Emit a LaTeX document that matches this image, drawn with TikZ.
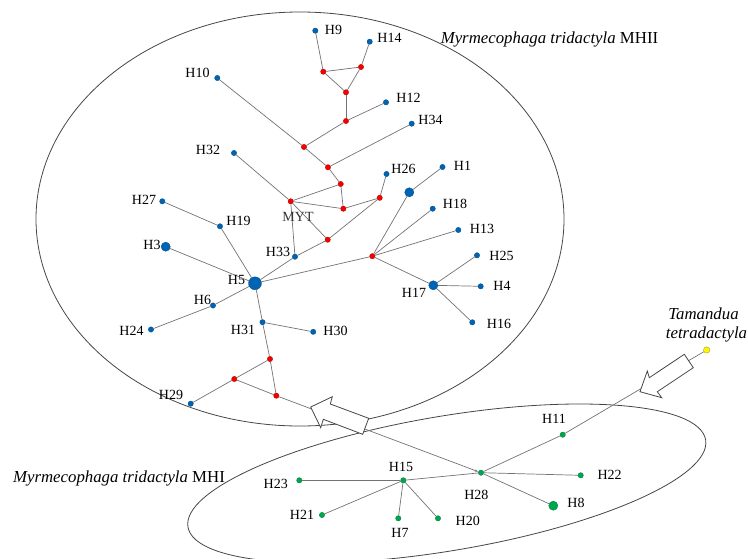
\documentclass[tikz,border=0pt]{standalone}
\usepackage{fontspec}
\setmainfont{Liberation Serif}
\usetikzlibrary{arrows.meta}
\definecolor{nblue}{RGB}{0,100,180}
\definecolor{nred}{RGB}{245,0,0}
\definecolor{ngreen}{RGB}{0,165,80}
\definecolor{nyellow}{RGB}{255,245,0}
\definecolor{egray}{RGB}{115,115,115}
\definecolor{ellgray}{RGB}{70,70,70}
\begin{document}
\begin{tikzpicture}[x=1pt,y=-1pt,
  hap/.style={circle,inner sep=0pt,minimum size=5.4pt,line width=0.3pt},
  hb/.style={hap,fill=nblue,draw=nblue!75!black},
  hbbig/.style={hb,minimum size=9.2pt},
  hr/.style={hap,fill=nred,draw=nred!75!black},
  hg/.style={hap,fill=ngreen,draw=ngreen!75!black},
  hgbig/.style={hg,minimum size=9.2pt},
  hy/.style={hap,fill=nyellow,draw=nyellow!60!black,minimum size=6.4pt},
  lab/.style={inner sep=0pt,font=\fontsize{14}{16}\selectfont},
  title/.style={inner sep=0pt,anchor=base,font=\fontsize{16.8}{19}\selectfont},
  edge/.style={draw=egray,line width=0.7pt},
  ell/.style={draw=ellgray,line width=0.8pt},
  blockarrow/.style={draw=ellgray,fill=white,line width=0.8pt,line join=miter}]
\useasboundingbox (0,0) rectangle (748,558);
\clip (0,0) rectangle (748,558);

% ellipses
\draw[ell] (300,219) ellipse [x radius=264pt, y radius=207pt];
\draw[ell, rotate around={9.56:(446.8,483.4)}] (446.8,483.4) ellipse [x radius=262.5pt, y radius=67.3pt];

% blue haplotypes (MHII)
\node[hb] (H9) at (315.3,30.7) {};
\node[hb] (H14) at (369.7,41.7) {};
\node[hb] (H10) at (217.3,78) {};
\node[hb] (H12) at (386,102.3) {};
\node[hb] (H34) at (411.7,123.7) {};
\node[hb] (H32) at (234,153) {};
\node[hb] (H26) at (386.5,174) {};
\node[hb] (H1) at (442.5,167) {};
\node[hbbig] (B1) at (409.3,192.3) {};
\node[hb] (H27) at (162.3,201.3) {};
\node[hb] (H19) at (220,226.3) {};
\node[hb] (H18) at (432.7,208.7) {};
\node[hb] (H13) at (458.3,230) {};
\node[hbbig] (H3) at (165.7,246.7) {};
\node[hb] (H33) at (295,256.7) {};
\node[hb] (H25) at (477,255.3) {};
\node[hb,minimum size=13pt] (H5) at (255,283.3) {};
\node[hbbig] (H17) at (433.3,285.3) {};
\node[hb] (H4) at (480.7,286.3) {};
\node[hb] (H6) at (213,305.5) {};
\node[hb] (H24) at (151,329.5) {};
\node[hb] (H31) at (262.5,322.2) {};
\node[hb] (H30) at (313.2,331.8) {};
\node[hb] (H16) at (472.3,322.3) {};
\node[hb] (H29) at (190.7,403.7) {};

% median vectors
\node[hr] (a1) at (323.3,71.7) {};
\node[hr] (a2) at (361,67) {};
\node[hr] (a3) at (346,92.3) {};
\node[hr] (a4) at (346,121) {};
\node[hr] (a5) at (304,147) {};
\node[hr] (a6) at (328,167.3) {};
\node[hr] (b1) at (340.7,184) {};
\node[hr] (b2) at (290.7,201.3) {};
\node[hr] (b3) at (343.3,208.7) {};
\node[hr] (b4) at (379.7,197.8) {};
\node[hr] (b5) at (327.7,239.7) {};
\node[hr] (c1) at (372.3,256.2) {};
\node[hr] (d1) at (270,359) {};
\node[hr] (d2) at (234.3,379) {};
\node[hr] (d3) at (276.3,395.7) {};

% green haplotypes (MHI) and outgroup
\node[hg] (H11) at (562.7,434.7) {};
\node[hg] (H28) at (481,472.7) {};
\node[hg] (H22) at (580.7,475.3) {};
\node[hgbig] (H8) at (553.3,505.7) {};
\node[hg] (H15) at (403.3,480.3) {};
\node[hg] (H23) at (299.3,480.3) {};
\node[hg] (H21) at (322,515) {};
\node[hg] (H7) at (398.3,518.3) {};
\node[hg] (H20) at (438,518.3) {};
\node[hy] (T) at (706.7,350) {};

% connectors
\foreach \u/\v in {H9/a1,H14/a2,a1/a2,a1/a3,a2/a3,a3/a4,a4/H12,a4/a5,H10/a5,a5/a6,a6/H34,a6/b1,
  b1/b3,b2/b1,b2/b3,b3/b4,b4/H26,b4/b5,b2/b5,H32/b2,b2/H33,H33/b5,H5/H33,H27/H19,H19/H5,H3/H5,
  H5/c1,c1/B1,B1/H1,c1/H18,c1/H13,c1/H17,H17/H25,H17/H4,H17/H16,H5/H6,H6/H24,H5/H31,H31/H30,
  H31/d1,d1/d2,d1/d3,d2/d3,d2/H29,H23/H15,H15/H28,H28/H22,H28/H11,H11/T,H28/H8,H15/H21,H15/H7,H15/H20}
  \draw[edge] (\u) -- (\v);
\draw[edge,-{Stealth[length=3pt,width=2.4pt]},shorten >=0.5pt] (d3) -- (H28);

% hollow block arrows
\draw[blockarrow] (310.7,407) -- (332.3,396.7) -- (330.3,404) -- (368.7,418.3) -- (362.7,434.3)
  -- (323.3,419.3) -- (320.7,427.7) -- cycle;
\draw[blockarrow] (640,391.7) -- (647.3,371) -- (649.3,377.7) -- (684.3,354.3) -- (693.3,367.7)
  -- (657.3,391.7) -- (661.7,397.7) -- cycle;

% labels
\node[lab] (lH9) at (333.5,30) {H9};
\node[lab] (lH14) at (389.5,38) {H14};
\node[lab] (lH10) at (197.5,73) {H10};
\node[lab] (lH12) at (408.5,98) {H12};
\node[lab] (lH34) at (430.5,120) {H34};
\node[lab] (lH32) at (208,150) {H32};
\node[lab] (lH26) at (403.5,169) {H26};
\node[lab] (lH1) at (462.5,166) {H1};
\node[lab] (lH27) at (144,200) {H27};
\node[lab] (lH19) at (238.5,221) {H19};
\node[lab,text=black!80] (lMYT) at (298,217) {MYT};
\node[lab] (lH3) at (152,245) {H3};
\node[lab] (lH33) at (278,251.7) {H33};
\node[lab] (lH5) at (236.5,280) {H5};
\node[lab] (lH18) at (455,204) {H18};
\node[lab] (lH13) at (482,229) {H13};
\node[lab] (lH25) at (501.5,256) {H25};
\node[lab] (lH17) at (414,293) {H17};
\node[lab] (lH4) at (502,286) {H4};
\node[lab] (lH16) at (499,324) {H16};
\node[lab] (lH6) at (202.5,300) {H6};
\node[lab] (lH24) at (131.5,331) {H24};
\node[lab] (lH31) at (243,330) {H31};
\node[lab] (lH30) at (335.5,331) {H30};
\node[lab] (lH29) at (171,395) {H29};
\node[lab] (lH11) at (554,418.7) {H11};
\node[lab] (lH22) at (609.6,475) {H22};
\node[lab] (lH28) at (476.4,495.3) {H28};
\node[lab] (lH8) at (576,502.7) {H8};
\node[lab] (lH15) at (401,466.7) {H15};
\node[lab] (lH23) at (275.7,484.3) {H23};
\node[lab] (lH21) at (302,515) {H21};
\node[lab] (lH7) at (400,532.7) {H7};
\node[lab] (lH20) at (467.7,521.3) {H20};

\node[title] (tMHII) at (549.5,43.5) {\textit{Myrmecophaga tridactyla} MHII};
\node[title] (tMHI) at (119,482.7) {\textit{Myrmecophaga tridactyla} MHI};
\node[title] (tTam1) at (703.5,319.3) {\textit{Tamandua}};
\node[title] (tTam2) at (706.5,338.3) {\textit{tetradactyla}};
\end{tikzpicture}
\end{document}
